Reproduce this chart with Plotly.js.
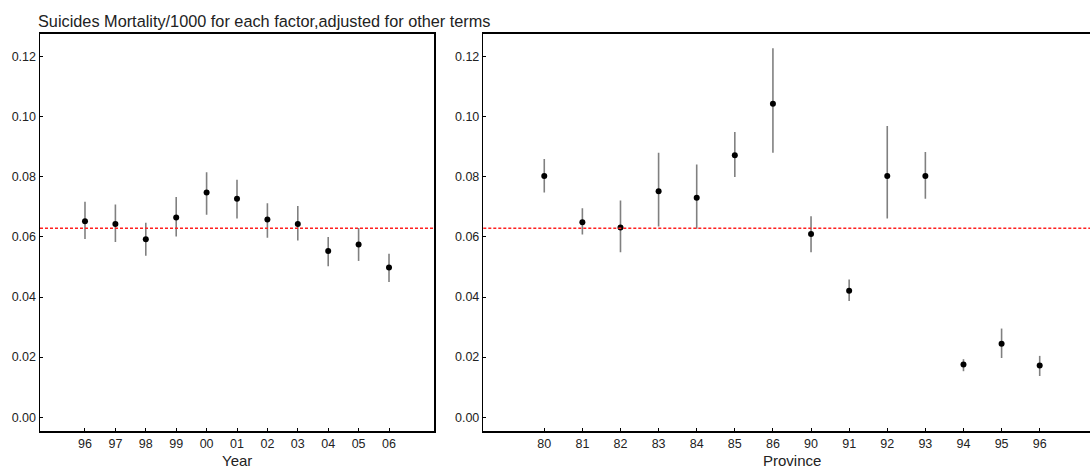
<!DOCTYPE html>
<html>
<head>
<meta charset="utf-8">
<script src="https://cdn.plot.ly/plotly-3.0.1.min.js"></script>
<style>html,body{margin:0;padding:0;background:#fff;}#chart{width:1090px;height:469px;}</style>
</head>
<body>
<div id="chart"></div>
<script>
// ---- Data ----
const yearLabels = ["96","97","98","99","00","01","02","03","04","05","06"];
const yearEst    = [0.0652,0.0643,0.0592,0.0665,0.0748,0.0727,0.0658,0.0643,0.0553,0.0575,0.0498];
const yearUpper  = [0.0717,0.0708,0.0647,0.0733,0.0815,0.0790,0.0712,0.0703,0.0600,0.0630,0.0544];
const yearLower  = [0.0593,0.0583,0.0537,0.0601,0.0674,0.0661,0.0597,0.0588,0.0502,0.0520,0.0450];

const provLabels = ["80","81","82","83","84","85","86","90","91","92","93","94","95","96"];
const provEst    = [0.0803,0.0649,0.0631,0.0752,0.0730,0.0872,0.1043,0.0610,0.0421,0.0803,0.0803,0.0175,0.0244,0.0172];
const provUpper  = [0.0859,0.0695,0.0721,0.0880,0.0841,0.0949,0.1228,0.0669,0.0458,0.0969,0.0883,0.0193,0.0295,0.0204];
const provLower  = [0.0748,0.0608,0.0549,0.0635,0.0627,0.0799,0.0880,0.0549,0.0387,0.0661,0.0727,0.0153,0.0197,0.0137];

const overallMean = 0.0629;
const yTicks = [0, 0.02, 0.04, 0.06, 0.08, 0.10, 0.12];

function errTrace(labels, est, up, lo, xa, ya) {
  return {
    type: 'scatter', mode: 'markers',
    x: labels, y: est, xaxis: xa, yaxis: ya,
    marker: {color: '#000', size: 6, symbol: 'circle'},
    error_y: {
      type: 'data', symmetric: false,
      array: up.map((u, i) => u - est[i]),
      arrayminus: lo.map((l, i) => est[i] - l),
      color: '#808080', thickness: 1.6, width: 0
    },
    showlegend: false, hoverinfo: 'x+y'
  };
}

const data = [
  errTrace(yearLabels, yearEst, yearUpper, yearLower, 'x', 'y'),
  errTrace(provLabels, provEst, provUpper, provLower, 'x2', 'y2')
];

const W = 1090, H = 469;
const FONT = 'Liberation Sans, Arial, sans-serif';
const tickFont = {family: FONT, size: 12.5, color: '#222'};
const yDom = [(H - 431) / H, (H - 33.5) / H];

const baseY = {
  range: [-0.0046, 0.1277], tickvals: yTicks,
  ticktext: yTicks.map(v => v.toFixed(2)),
  ticks: 'inside', ticklen: 3, tickcolor: '#000', tickwidth: 1,
  showgrid: false, zeroline: false, showline: true, linecolor: '#000', linewidth: 1.5,
  tickfont: tickFont, domain: yDom, fixedrange: true
};
const baseX = {
  type: 'category', ticks: 'inside', ticklen: 3, tickcolor: '#000', tickwidth: 1,
  showgrid: false, zeroline: false, showline: true, linecolor: '#000', linewidth: 1.5,
  tickfont: tickFont, fixedrange: true
};

const layout = {
  width: W, height: H,
  margin: {l: 0, r: 0, t: 0, b: 0},
  paper_bgcolor: '#fff', plot_bgcolor: '#fff',
  xaxis: Object.assign({}, baseX, {
    domain: [40 / W, 434 / W], range: [-1.48, 11.48], mirror: true, anchor: 'y'
  }),
  yaxis: Object.assign({}, baseY, {anchor: 'x', mirror: true}),
  xaxis2: Object.assign({}, baseX, {
    domain: [483.3 / W, 1], range: [-1.6, 14.32], mirror: true, anchor: 'y2'
  }),
  yaxis2: Object.assign({}, baseY, {anchor: 'x2', mirror: false}),
  shapes: [
    {type: 'line', xref: 'x domain', yref: 'y', x0: 0, x1: 1, y0: overallMean, y1: overallMean,
     line: {color: '#ff2020', width: 1.5, dash: '3px,2px'}},
    {type: 'line', xref: 'x2 domain', yref: 'y2', x0: 0, x1: 1, y0: overallMean, y1: overallMean,
     line: {color: '#ff2020', width: 1.5, dash: '3px,2px'}}
  ],
  annotations: [
    {text: 'Suicides Mortality/1000 for each factor,adjusted for other terms', xref: 'paper', yref: 'paper',
     x: 36 / W, y: (H - 21) / H, xanchor: 'left', yanchor: 'middle', showarrow: false,
     font: {family: FONT, size: 16.3, color: '#222'}},
    {text: 'Year', xref: 'paper', yref: 'paper', x: 237 / W, y: (H - 460) / H,
     xanchor: 'center', yanchor: 'middle', showarrow: false,
     font: {family: FONT, size: 15, color: '#222'}},
    {text: 'Province', xref: 'paper', yref: 'paper', x: 792 / W, y: (H - 460) / H,
     xanchor: 'center', yanchor: 'middle', showarrow: false,
     font: {family: FONT, size: 15, color: '#222'}}
  ]
};

Plotly.newPlot('chart', data, layout, {staticPlot: true, displayModeBar: false});
</script>
</body>
</html>
